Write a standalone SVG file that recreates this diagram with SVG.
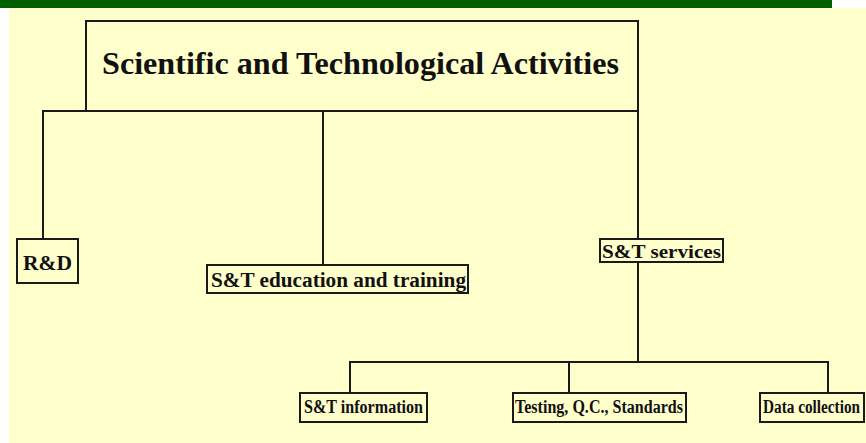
<svg xmlns="http://www.w3.org/2000/svg" width="866" height="443" viewBox="0 0 866 443">
<style>
.box{fill:#FFFFCC;stroke:#1a1a1a;stroke-width:2}
.ln{fill:none;stroke:#1a1a1a;stroke-width:2}
.t{font-family:"Liberation Serif","Times New Roman",serif;font-weight:bold;fill:#111}
</style>
<rect x="0" y="0" width="866" height="443" fill="#ffffff"/>
<rect x="9" y="8" width="857" height="435" fill="#FFFFCC"/>
<rect x="0" y="0" width="832" height="8" fill="#006000"/>
<g id="connectors">
<polyline class="ln" points="43,239 43,111 638,111 638,239"/>
<line class="ln" x1="323" y1="111" x2="323" y2="265"/>
<line class="ln" x1="638" y1="262" x2="638" y2="362"/>
<polyline class="ln" points="350,393 350,362 828,362 828,393"/>
<line class="ln" x1="569" y1="362" x2="569" y2="393"/>
</g>
<g id="title">
<rect class="box" x="86" y="21" width="552" height="90"/>
<text class="t" x="102" y="74" font-size="31" textLength="517" lengthAdjust="spacingAndGlyphs">Scientific and Technological Activities</text>
</g>
<g id="rd">
<rect class="box" x="17" y="239" width="61" height="44"/>
<text class="t" x="23" y="270" font-size="20" textLength="49" lengthAdjust="spacingAndGlyphs">R&amp;D</text>
</g>
<g id="education">
<rect class="box" x="207" y="265" width="261" height="28"/>
<text class="t" x="211" y="287" font-size="20" textLength="255" lengthAdjust="spacingAndGlyphs">S&amp;T education and training</text>
</g>
<g id="services">
<rect class="box" x="600" y="239" width="123" height="23"/>
<text class="t" x="602" y="258" font-size="19" textLength="119" lengthAdjust="spacingAndGlyphs">S&amp;T services</text>
</g>
<g id="information">
<rect class="box" x="300" y="393" width="127" height="29"/>
<text class="t" x="304" y="413" font-size="18" textLength="119" lengthAdjust="spacingAndGlyphs">S&amp;T information</text>
</g>
<g id="testing">
<rect class="box" x="513" y="393" width="173" height="29"/>
<text class="t" x="515" y="413" font-size="18" textLength="168" lengthAdjust="spacingAndGlyphs">Testing, Q.C., Standards</text>
</g>
<g id="data">
<rect class="box" x="760" y="393" width="104" height="29"/>
<text class="t" x="763" y="413" font-size="18" textLength="97" lengthAdjust="spacingAndGlyphs">Data collection</text>
</g>
</svg>
